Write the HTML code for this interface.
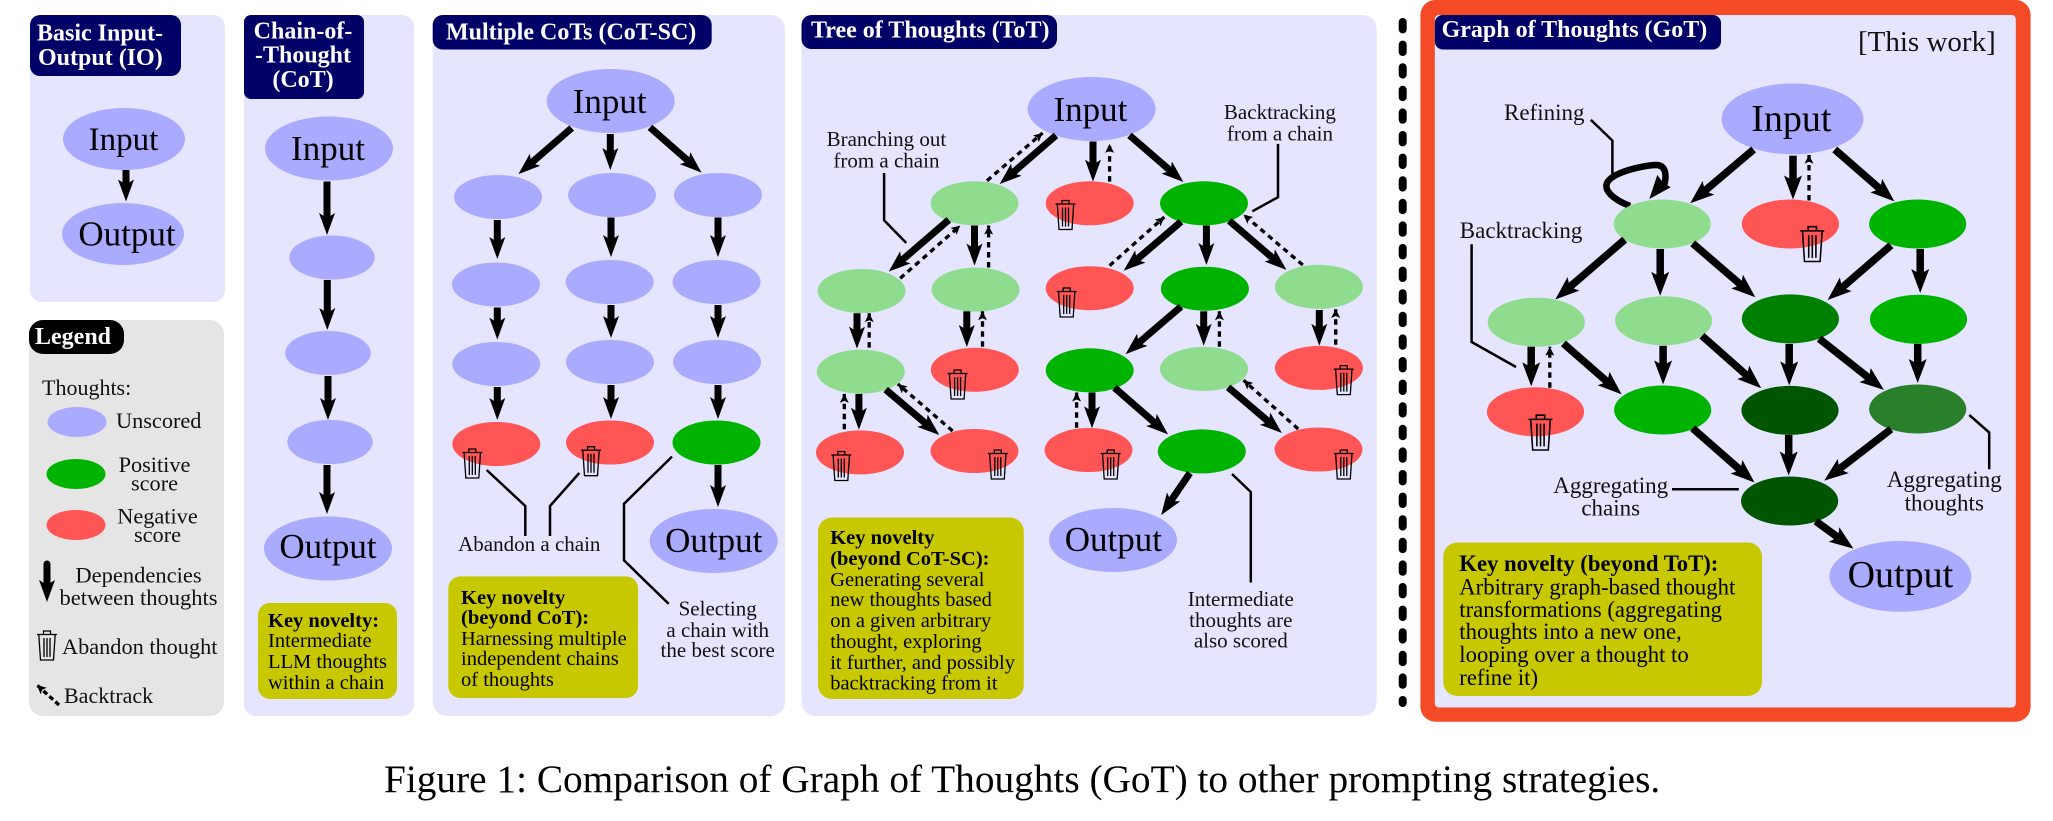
<!DOCTYPE html>
<html><head><meta charset="utf-8"><style>
html,body{margin:0;padding:0;background:#fff}
svg{display:block}
text{font-family:"Liberation Serif",serif;fill:#111;font-size:21px}
.h{font-size:24px;font-weight:bold;fill:#fff}
.big{font-size:35px;fill:#000;text-anchor:middle}
.c{text-anchor:middle}
.k{font-size:20.5px;fill:#000}
.b{font-weight:bold}
.g{font-size:23px}
.leg{font-size:22.3px}
.u{fill:#aaaaff}.p{fill:#00b300}.n{fill:#ff5555}.l{fill:#8fdc8f}
.s{stroke:#000;stroke-width:7;fill:none;marker-end:url(#a)}
.w{stroke:#000;stroke-width:7.500;fill:none;marker-end:url(#w)}
.d{stroke:#000;stroke-width:3.300;fill:none;stroke-dasharray:5.500 4.500;marker-end:url(#d)}
.t{stroke:#000;stroke-width:2.500;fill:none}
</style></head><body>
<svg xmlns="http://www.w3.org/2000/svg" width="2053" height="821" viewBox="0 0 2053 821">
<defs>
<marker id="a" markerUnits="userSpaceOnUse" markerWidth="26" markerHeight="24" refX="8" refY="10" orient="auto"><path d="M0 2L22 10L0 18L5 10ZM3 6.500H11V13.500H3Z" fill="#000"/></marker>
<marker id="w" markerUnits="userSpaceOnUse" markerWidth="28" markerHeight="24" refX="8" refY="10" orient="auto"><path d="M0 1L24 10L0 19L5 10ZM3 6.300H11V13.700H3Z" fill="#000"/></marker>
<marker id="d" markerUnits="userSpaceOnUse" markerWidth="12" markerHeight="12" refX="9" refY="5" orient="auto"><path d="M0 0.500L9 5L0 9.500L2 5Z" fill="#000"/></marker>
<g id="t" fill="none" stroke="#000" stroke-width="1.300"><path d="M0 4.500H20M6.500 4.500V1H13.500V4.500M1.800 4.500L3.500 30H16.500L18.200 4.500M7 8V27M10 8V27M13 8V27"/></g>
</defs>

<!-- IO -->
<rect x="30" y="15" width="195" height="287" rx="12" fill="#e5e5ff"/>
<rect x="30" y="15" width="151" height="61" rx="10" fill="#000066"/>
<text class="h" x="37" y="40.500">Basic Input-</text><text class="h" x="38" y="65">Output (IO)</text>
<ellipse class="u" cx="124" cy="139" rx="61" ry="31"/>
<ellipse class="u" cx="123" cy="234" rx="61" ry="31"/>
<path class="s" d="M126 170V187.500"/>
<text class="big" x="123.500" y="150" style="font-size:33px">Input</text><text class="big" x="127" y="245.500">Output</text>

<!-- Legend -->
<rect x="29" y="320" width="195" height="396" rx="14" fill="#e5e5e5"/>
<rect x="29" y="320" width="95" height="34" rx="14" fill="#000"/>
<text class="h" x="35" y="344">Legend</text>
<text x="42" y="395" style="font-size:22px">Thoughts:</text>
<ellipse class="u" cx="77" cy="422" rx="29.500" ry="15"/>
<ellipse class="p" cx="76" cy="474" rx="29.500" ry="15"/>
<ellipse class="n" cx="76" cy="525" rx="29.500" ry="15"/>
<text class="leg" x="116" y="428">Unscored</text>
<text class="leg c" x="154.500" y="472">Positive</text><text class="leg c" x="154.500" y="490.500">score</text>
<text class="leg c" x="157.500" y="523.500">Negative</text><text class="leg c" x="157.500" y="542">score</text>
<path class="s" d="M47 564V588" stroke-linecap="round"/>
<text class="c" x="138.500" y="582.500" style="font-size:22.500px">Dependencies</text><text class="c" x="138.500" y="605" style="font-size:22.500px">between thoughts</text>
<use href="#t" x="37" y="630"/>
<text x="62" y="654" style="font-size:22.300px">Abandon thought</text>
<path class="d" d="M59 705L37 685" style="stroke-dasharray:5 3"/>
<text x="64" y="703" style="font-size:22px">Backtrack</text>

<!-- CoT -->
<rect x="244" y="15" width="170" height="701" rx="12" fill="#e5e5ff"/>
<rect x="244" y="15" width="120" height="84" rx="7" fill="#000066"/>
<text class="h c" x="303" y="38.500">Chain-of-</text><text class="h c" x="303" y="62.500">-Thought</text><text class="h c" x="303" y="87">(CoT)</text>
<ellipse class="u" cx="329" cy="148.500" rx="64" ry="32"/>
<ellipse class="u" cx="332" cy="257.500" rx="42.700" ry="22"/>
<ellipse class="u" cx="328" cy="353" rx="42.700" ry="22"/>
<ellipse class="u" cx="330" cy="442" rx="42.700" ry="22"/>
<ellipse class="u" cx="328" cy="548.500" rx="64" ry="32"/>
<text class="big" x="328" y="160">Input</text><text class="big" x="328" y="558">Output</text>
<path class="s" d="M327 181.500V221"/><path class="s" d="M327.300 280V316"/><path class="s" d="M328 376V406"/><path class="s" d="M327 465V500"/>
<rect x="258" y="603" width="139" height="96" rx="12" fill="#c8c800"/>
<text class="k b" x="268" y="627">Key novelty:</text><text class="k" x="268" y="647">Intermediate</text><text class="k" x="268" y="668">LLM thoughts</text><text class="k" x="268" y="689">within a chain</text>

<!-- CoT-SC -->
<rect x="432.700" y="15" width="352.300" height="701" rx="14" fill="#e5e5ff"/>
<rect x="432.700" y="15" width="279" height="34.500" rx="10" fill="#000066"/>
<text class="h" x="446" y="39.500">Multiple CoTs (CoT-SC)</text>
<ellipse class="u" cx="610.700" cy="101" rx="64" ry="32"/>
<text class="big" x="609.700" y="113">Input</text>
<ellipse class="u" cx="498" cy="197" rx="44" ry="22"/><ellipse class="u" cx="496" cy="284.500" rx="44" ry="22"/><ellipse class="u" cx="496.300" cy="364" rx="44" ry="22"/><ellipse class="n" cx="496.300" cy="444" rx="44" ry="22"/>
<ellipse class="u" cx="612" cy="195" rx="44" ry="22"/><ellipse class="u" cx="609.700" cy="282" rx="44" ry="22"/><ellipse class="u" cx="610" cy="362" rx="44" ry="22"/><ellipse class="n" cx="610" cy="442.500" rx="44" ry="22"/>
<ellipse class="u" cx="718" cy="195" rx="44" ry="22"/><ellipse class="u" cx="716.500" cy="282" rx="44" ry="22"/><ellipse class="u" cx="717" cy="362" rx="44" ry="22"/><ellipse class="p" cx="716.500" cy="442.500" rx="44" ry="22"/>
<ellipse class="u" cx="713.700" cy="541" rx="64" ry="32"/>
<text class="big" x="713.700" y="552">Output</text>
<path class="s" d="M571.700 128L529 165"/><path class="s" d="M610.300 134V156"/><path class="s" d="M650 127.400L691 163.400"/>
<path class="s" d="M497.300 220V245"/><path class="s" d="M497.300 307.500V325.600"/><path class="s" d="M497.300 387V406"/>
<path class="s" d="M611 217.500V243"/><path class="s" d="M611 305V324"/><path class="s" d="M611 385V405"/>
<path class="s" d="M718 217.500V243"/><path class="s" d="M718 305V324"/><path class="s" d="M718 385V405"/><path class="s" d="M718 465V493"/>
<use href="#t" x="462.300" y="448"/><use href="#t" x="581" y="445.700"/>
<path class="t" d="M486.700 470L525.300 506V536"/><path class="t" d="M579.300 473L550 506V536"/><path class="t" d="M672 456.600L624 503.800V560.400L668.700 603.800"/>
<text class="c" x="529.300" y="551">Abandon a chain</text>
<text class="c" x="717.700" y="615.500">Selecting</text><text class="c" x="717.700" y="636.800">a chain with</text><text class="c" x="717.700" y="657">the best score</text>
<rect x="448.300" y="576.400" width="189.700" height="121.600" rx="12" fill="#c8c800"/>
<text class="k b" x="461" y="604">Key novelty</text><text class="k b" x="461" y="624">(beyond CoT):</text><text class="k" x="461" y="645">Harnessing multiple</text><text class="k" x="461" y="665">independent chains</text><text class="k" x="461" y="686">of thoughts</text>

<!-- ToT -->
<rect x="801.500" y="15" width="575.200" height="701" rx="14" fill="#e5e5ff"/>
<rect x="801.500" y="15" width="255.500" height="34" rx="10" fill="#000066"/>
<text class="h" x="811" y="37.700">Tree of Thoughts (ToT)</text>
<ellipse class="u" cx="1091.600" cy="109" rx="64" ry="32"/><text class="big" x="1090.400" y="121">Input</text>
<ellipse class="l" cx="974.500" cy="203.300" rx="44" ry="22"/><ellipse class="n" cx="1089.700" cy="203.300" rx="44" ry="22"/><ellipse class="p" cx="1204" cy="203.300" rx="44" ry="22"/>
<ellipse class="l" cx="861.600" cy="291" rx="44" ry="22"/><ellipse class="l" cx="975.600" cy="289.600" rx="44" ry="22"/><ellipse class="n" cx="1089.700" cy="288.200" rx="44" ry="22"/><ellipse class="p" cx="1204.900" cy="288.700" rx="44" ry="22"/><ellipse class="l" cx="1318.900" cy="286.800" rx="44" ry="22"/>
<ellipse class="l" cx="860.800" cy="371.700" rx="44" ry="22"/><ellipse class="n" cx="974.800" cy="369.800" rx="44" ry="22"/><ellipse class="p" cx="1089.700" cy="370.300" rx="44" ry="22"/><ellipse class="l" cx="1204" cy="368.900" rx="44" ry="22"/><ellipse class="n" cx="1318.900" cy="367.900" rx="44" ry="22"/>
<ellipse class="n" cx="860" cy="452.400" rx="44" ry="22"/><ellipse class="n" cx="974.500" cy="451" rx="44" ry="22"/><ellipse class="n" cx="1088.500" cy="450" rx="44" ry="22"/><ellipse class="p" cx="1201.800" cy="451.400" rx="44" ry="22"/><ellipse class="n" cx="1318.500" cy="449.500" rx="44" ry="22"/>
<ellipse class="u" cx="1113" cy="540" rx="64" ry="32"/><text class="big" x="1113.400" y="551">Output</text>
<path class="s" d="M1056 135.400L1010.300 174.900"/><path class="s" d="M1093 141.500V167.600"/><path class="s" d="M1129.500 135.400L1172.800 172.800"/>
<path class="s" d="M948.800 219.800L899.300 262.500"/><path class="s" d="M974.500 225.500V251.600"/>
<path class="s" d="M1181 221.700L1134.300 261.700"/><path class="s" d="M1206.400 225.500V251"/><path class="s" d="M1229.300 220.800L1275.800 260.700"/>
<path class="s" d="M857 313.200V334.600"/><path class="s" d="M966.800 311.300V333"/><path class="s" d="M1181 306.600L1136.200 345"/><path class="s" d="M1203.700 311.300V331.800"/><path class="s" d="M1319.300 310V331.800"/>
<path class="s" d="M858.900 393.900V415.700"/><path class="s" d="M885.700 389.600L928.600 425.900"/><path class="s" d="M1092 392.500V414.300"/><path class="s" d="M1114.500 387.700L1157.500 425.200"/><path class="s" d="M1228.200 387.300L1271.200 423.900"/>
<path class="s" d="M1189.900 473L1169.100 503.500"/>
<path class="d" d="M987 180.700L1042.600 133"/><path class="d" d="M1109.600 181.600V143.900"/><path class="d" d="M900.200 278.300L960.300 225.500"/><path class="d" d="M988.600 267.500V225.500"/><path class="d" d="M1109.600 265.600L1164.300 217"/><path class="d" d="M1302.800 265L1243.500 214.600"/>
<path class="d" d="M869.200 347.600V313.200"/><path class="d" d="M982.500 346.700V311.300"/><path class="d" d="M1219.400 346.700V311.300"/><path class="d" d="M1335.700 344.800V309"/>
<path class="d" d="M844.300 429.200V393.900"/><path class="d" d="M952.600 431L897.900 384"/><path class="d" d="M1076.600 427.800V392.500"/><path class="d" d="M1298.200 429L1243.500 380.200"/>
<use href="#t" x="1055.500" y="199.500"/><use href="#t" x="1056.700" y="287"/><use href="#t" x="947.600" y="369"/><use href="#t" x="1333.800" y="364.600"/><use href="#t" x="831.300" y="450.500"/><use href="#t" x="987.800" y="449"/><use href="#t" x="1100.700" y="449"/><use href="#t" x="1333.800" y="449"/>
<path class="t" d="M884.100 173V220.300L906.300 243"/><path class="t" d="M1278 143.900V197.200L1252.300 211.300"/><path class="t" d="M1232 474L1250.800 492V582.500"/>
<text class="c" x="886.400" y="146">Branching out</text><text class="c" x="886.400" y="167.500">from a chain</text>
<text class="c" x="1279.900" y="119">Backtracking</text><text class="c" x="1279.900" y="140.600">from a chain</text>
<text class="c" x="1240.800" y="606">Intermediate</text><text class="c" x="1240.800" y="627">thoughts are</text><text class="c" x="1240.800" y="647.600">also scored</text>
<rect x="818" y="517.500" width="205.800" height="181.500" rx="14" fill="#c8c800"/>
<text class="k b" x="830.200" y="544">Key novelty</text><text class="k b" x="830.200" y="565">(beyond CoT-SC):</text><text class="k" x="830.200" y="586">Generating several</text><text class="k" x="830.200" y="606">new thoughts based</text><text class="k" x="830.200" y="627">on a given arbitrary</text><text class="k" x="830.200" y="648">thought, exploring</text><text class="k" x="830.200" y="669">it further, and possibly</text><text class="k" x="830.200" y="689.600">backtracking from it</text>

<!-- Separator -->
<path d="M1402.700 22V703" stroke="#000" stroke-width="8" stroke-linecap="round" stroke-dasharray="7.400 15.200" fill="none"/>

<!-- GoT -->
<rect x="1420.400" y="0" width="610.200" height="721.700" rx="15" fill="#f44a25"/>
<rect x="1434.800" y="15" width="581" height="692.500" rx="4" fill="#e5e5ff"/>
<rect x="1434.800" y="15" width="286.200" height="34.500" rx="8" fill="#000066"/>
<text class="h" x="1441.600" y="37">Graph of Thoughts (GoT)</text>
<text x="1858" y="51" style="font-size:29px">[This work]</text>
<ellipse class="u" cx="1792.500" cy="118.900" rx="71" ry="35.400"/><text class="big" x="1791.300" y="131" style="font-size:38px">Input</text>
<path d="M1630 206C1612 199 1604 190 1607 183C1612 172 1645 165 1656 165C1666 165 1667 175 1664 186" fill="none" stroke="#000" stroke-width="6.500"/>
<path d="M1649.300 199L1657.300 175L1663.300 183L1670.700 187.300Z" fill="#000"/>
<ellipse class="l" cx="1662.300" cy="224" rx="48.600" ry="24.500"/><ellipse class="n" cx="1790.400" cy="224" rx="48.600" ry="24.500"/><ellipse class="p" cx="1917.700" cy="224" rx="48.600" ry="24.500"/>
<ellipse class="l" cx="1536.300" cy="322.200" rx="48.600" ry="24.500"/><ellipse class="l" cx="1663.600" cy="320.800" rx="48.600" ry="24.500"/><ellipse cx="1790.400" cy="318.900" rx="48.600" ry="24.500" fill="#008000"/><ellipse class="p" cx="1918.500" cy="319.300" rx="48.600" ry="24.500"/>
<ellipse class="n" cx="1535.500" cy="411.800" rx="48.600" ry="24.500"/><ellipse class="p" cx="1662.700" cy="410" rx="48.600" ry="24.500"/><ellipse cx="1790" cy="410.400" rx="48.600" ry="24.500" fill="#005500"/><ellipse cx="1917.700" cy="409" rx="48.600" ry="24.500" fill="#2a802a"/>
<ellipse cx="1789.600" cy="501" rx="48.600" ry="24.500" fill="#005500"/>
<ellipse class="u" cx="1900.400" cy="576.400" rx="71" ry="35.400"/><text class="big" x="1900.400" y="587" style="font-size:38px">Output</text>
<path class="w" d="M1753.600 149.500L1702.400 192.900"/><path class="w" d="M1793 155.700V183.500"/><path class="w" d="M1834.800 149.500L1882.300 190.900"/>
<path class="w" d="M1624.700 239.600L1567.400 289"/><path class="w" d="M1660.200 249V279.800"/><path class="w" d="M1692.700 243.400L1743.200 286.800"/><path class="w" d="M1891 245.300L1839.700 289.600"/><path class="w" d="M1920.200 249V277"/>
<path class="w" d="M1531.200 346.700V370.300"/><path class="w" d="M1563.400 343.400L1609.600 383.800"/><path class="w" d="M1663.100 345.800V368.400"/><path class="w" d="M1702 335.800L1749.200 377.600"/><path class="w" d="M1789.200 343.900V369.400"/><path class="w" d="M1819.200 338.700L1871.400 380"/><path class="w" d="M1917.700 343.900V367"/>
<path class="w" d="M1692.700 428.300L1742.500 472"/><path class="w" d="M1788.700 434.900V459.500"/><path class="w" d="M1891 429.200L1836.900 470.900"/><path class="w" d="M1815.800 521.200L1840.500 539.200"/>
<path class="d" d="M1809 200.500V154.700"/><path class="d" d="M1549.800 387.700V346.700"/>
<g transform="translate(1800.300 225.500) scale(1.200)"><use href="#t"/></g>
<g transform="translate(1528.500 414) scale(1.200)"><use href="#t"/></g>
<path class="t" d="M1590.800 119.800L1612.400 140.600V174.500"/><path class="t" d="M1471.600 244.300V342L1516 367"/><path class="t" d="M1672 489.200H1738.800"/><path class="t" d="M1969.300 415L1989.200 432.500V469.300"/>
<text class="g" x="1504" y="120">Refining</text><text class="g" x="1459.800" y="238">Backtracking</text>
<text class="g c" x="1610.700" y="493">Aggregating</text><text class="g c" x="1610.700" y="515.600">chains</text>
<text class="g c" x="1944.300" y="487">Aggregating</text><text class="g c" x="1944.300" y="510.400">thoughts</text>
<rect x="1443.300" y="542.500" width="318.700" height="153.500" rx="14" fill="#c8c800"/>
<text class="b" style="font-size:22.700px;fill:#000" x="1459.300" y="570.800">Key novelty (beyond ToT):</text>
<text style="font-size:22.700px;fill:#000" x="1459.300" y="594.300">Arbitrary graph-based thought</text>
<text style="font-size:22.700px;fill:#000" x="1459.300" y="617">transformations (aggregating</text>
<text style="font-size:22.700px;fill:#000" x="1459.300" y="639">thoughts into a new one,</text>
<text style="font-size:22.700px;fill:#000" x="1459.300" y="661.800">looping over a thought to</text>
<text style="font-size:22.700px;fill:#000" x="1459.300" y="685">refine it)</text>

<text x="384" y="792" style="font-size:39.300px;fill:#000">Figure 1: Comparison of Graph of Thoughts (GoT) to other prompting strategies.</text>
</svg>
</body></html>
